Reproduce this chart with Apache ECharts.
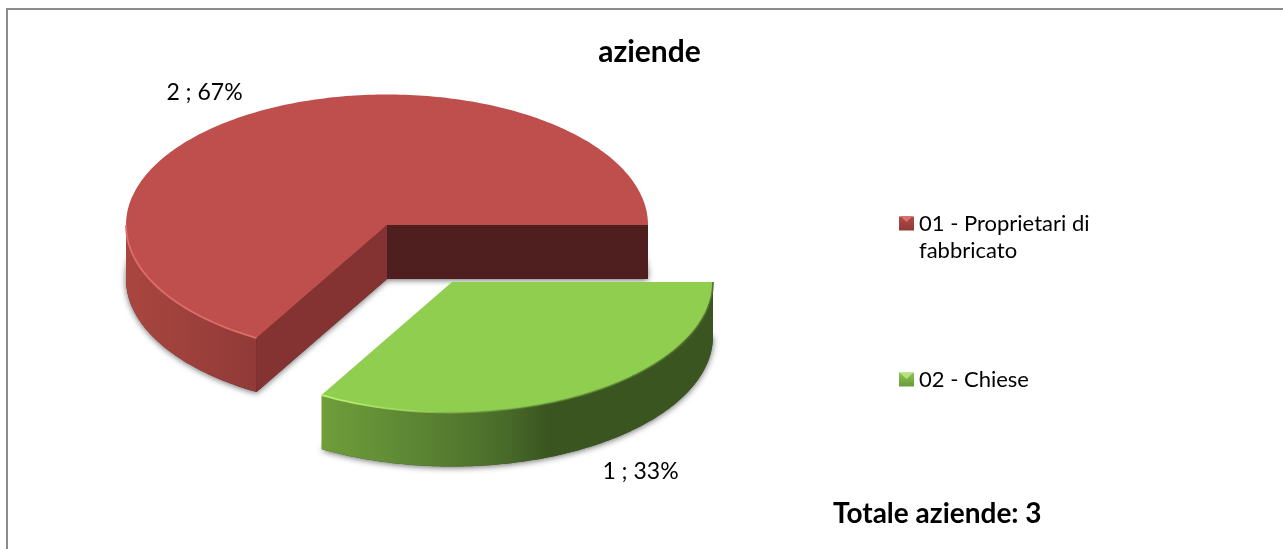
<!DOCTYPE html>
<html>
<head>
<meta charset="utf-8">
<style>html,body{margin:0;padding:0;background:#fff}#c{width:1283px;height:549px}</style>
<script src="https://cdn.jsdelivr.net/npm/echarts@6/dist/echarts.min.js"></script>
</head>
<body>
<div id="c"></div>
<script>
const categories = ['01 - Proprietari di fabbricato', '02 - Chiese'];
const values = [2, 1];
const chartTitle = 'aziende';
const totalLabel = 'Totale aziende: 3';

const FONT = 'Lato, Carlito, Calibri, sans-serif';
const total = values.reduce((a, b) => a + b, 0);
const firstSliceAngle = 120;
const RX = 261, RY = 130.5, DEPTH = 54;

const sliceStyles = [
  { cx: 387, cy: 225, top: '#be4f4c', faceA: '#853332', faceB: '#4f1f1f',
    wall: [[0, '#a9463f'], [1, '#913a37']],
    rim: [[0, 'rgba(226,113,108,0.9)'], [1, 'rgba(226,113,108,0.9)']],
    labelDX: -52, labelDY: -19, legend: [[0, '#b04a47'], [1, '#8f3a38']], bevel: '#d8706c', bevelY: 216 },
  { cx: 452, cy: 282, top: '#8fce4f', faceA: '#3a5520', faceB: '#3a5520',
    wall: [[0, '#6f9e3a'], [0.2, '#5f8a35'], [0.46, '#4a6c2a'], [0.58, '#3a5520'], [1, '#3a5520']],
    rim: [[0, 'rgba(190,240,110,1)'], [0.22, 'rgba(170,225,100,0.8)'], [0.45, 'rgba(110,160,65,0.5)'], [1, 'rgba(70,100,40,0.85)']],
    labelDX: 58, labelDY: 23, legend: [[0, '#8cc552'], [1, '#6a9a3a']], bevel: '#b6e27c', bevelY: 373 }
];

function linear(stops, vertical) {
  return { type: 'linear', x: 0, y: 0, x2: vertical ? 0 : 1, y2: vertical ? 1 : 0,
    colorStops: stops.map(s => ({ offset: s[0], color: s[1] })) };
}
function rimPoint(s, deg, dy) {
  const r = deg * Math.PI / 180;
  return [s.cx + RX * Math.cos(r), s.cy + RY * Math.sin(r) + (dy || 0)];
}
function arc(s, a, b, dy) {
  const pts = [];
  const n = Math.max(2, Math.ceil(Math.abs(b - a)));
  for (let i = 0; i <= n; i++) pts.push(rimPoint(s, a + (b - a) * i / n, dy));
  return pts;
}
function sliceAngles(index) {
  let a = firstSliceAngle;
  for (let i = 0; i < index; i++) a += values[i] / total * 360;
  return a;
}
function makeRender(index) {
  return function (params, api) {
    const v = api.value(0);
    const s = sliceStyles[index];
    const a = sliceAngles(index), b = a + v / total * 360;
    const c = [s.cx, s.cy], cb = [s.cx, s.cy + DEPTH];
    const children = [];
    children.push({ type: 'polygon', shape: { points: [cb].concat(arc(s, a, b, DEPTH)) },
      style: { fill: s.faceB, shadowBlur: 6, shadowColor: 'rgba(0,0,0,0.6)', shadowOffsetX: 0, shadowOffsetY: 1 } });
    const faceVisible = d => Math.sin(d * Math.PI / 180) > 0;
    if (faceVisible(a - 90)) {
      const p = rimPoint(s, a);
      children.push({ type: 'polygon', shape: { points: [c, p, [p[0], p[1] + DEPTH], cb] }, style: { fill: s.faceA } });
    }
    if (faceVisible(b + 90)) {
      const p = rimPoint(s, b);
      children.push({ type: 'polygon', shape: { points: [c, p, [p[0], p[1] + DEPTH], cb] }, style: { fill: s.faceB } });
    }
    for (let k = 0; k < 2; k++) {
      const lo = Math.max(a, k * 360), hi = Math.min(b, k * 360 + 180);
      if (hi > lo) {
        const top = arc(s, lo, hi, 0), bottom = arc(s, hi, lo, DEPTH);
        children.push({ type: 'polygon', shape: { points: top.concat(bottom) }, style: { fill: linear(s.wall) } });
      }
    }
    children.push({ type: 'polygon', shape: { points: [c].concat(arc(s, a, b, 0)) }, style: { fill: s.top } });
    for (let k = 0; k < 2; k++) {
      const lo = Math.max(a, k * 360), hi = Math.min(b, k * 360 + 180);
      if (hi > lo) {
        children.push({ type: 'polyline', shape: { points: arc(s, lo, hi, 0) },
          style: { fill: null, stroke: linear(s.rim), lineWidth: 1.8 } });
      }
    }
    const mid = rimPoint(s, (a + b) / 2, faceVisible((a + b) / 2) ? DEPTH : 0);
    children.push({ type: 'text', style: {
      text: v + ' ; ' + Math.round(v / total * 100) + '%',
      x: mid[0] + s.labelDX, y: mid[1] + s.labelDY,
      font: '23px ' + FONT, fill: '#000', align: 'center', verticalAlign: 'middle' } });
    return { type: 'group', children };
  };
}

const chart = echarts.init(document.getElementById('c'), null, { renderer: 'canvas' });
chart.setOption({
  animation: false,
  backgroundColor: '#fff',
  title: [
    { text: chartTitle, left: 644.5, top: 32, textAlign: 'center',
      textStyle: { fontFamily: FONT, fontSize: 30, fontWeight: 'bold', color: '#000' } },
    { text: totalLabel, left: 828, top: 495,
      textStyle: { fontFamily: FONT, fontSize: 28, fontWeight: 'bold', color: '#000' } }
  ],
  legend: {
    orient: 'vertical', left: 894, top: 178, itemWidth: 15, itemHeight: 14, itemGap: 102,
    selectedMode: false,
    data: categories.map((name, i) => ({ name, icon: 'rect', itemStyle: { color: linear(sliceStyles[i].legend, true) } })),
    formatter: n => n.indexOf(' fabbricato') > 0 ? ' \n' + n.replace(' fabbricato', '\nfabbricato') : n,
    textStyle: { fontFamily: FONT, fontSize: 22, lineHeight: 27, color: '#000' }
  },
  graphic: [{ type: 'rect', silent: true, shape: { x: 7, y: 9, width: 1500, height: 800 },
    style: { fill: null, stroke: '#8c8c8c', lineWidth: 2 } }].concat(
    sliceStyles.map(s => ({ type: 'polygon', silent: true, z: 100,
      shape: { points: [[900, s.bevelY], [913, s.bevelY], [906.5, s.bevelY + 6]] }, style: { fill: s.bevel } }))),
  series: categories.map((name, i) => ({
    type: 'custom', name, coordinateSystem: 'none', silent: true,
    itemStyle: { color: sliceStyles[i].top },
    renderItem: makeRender(i),
    data: [values[i]]
  }))
});
</script>
</body>
</html>
